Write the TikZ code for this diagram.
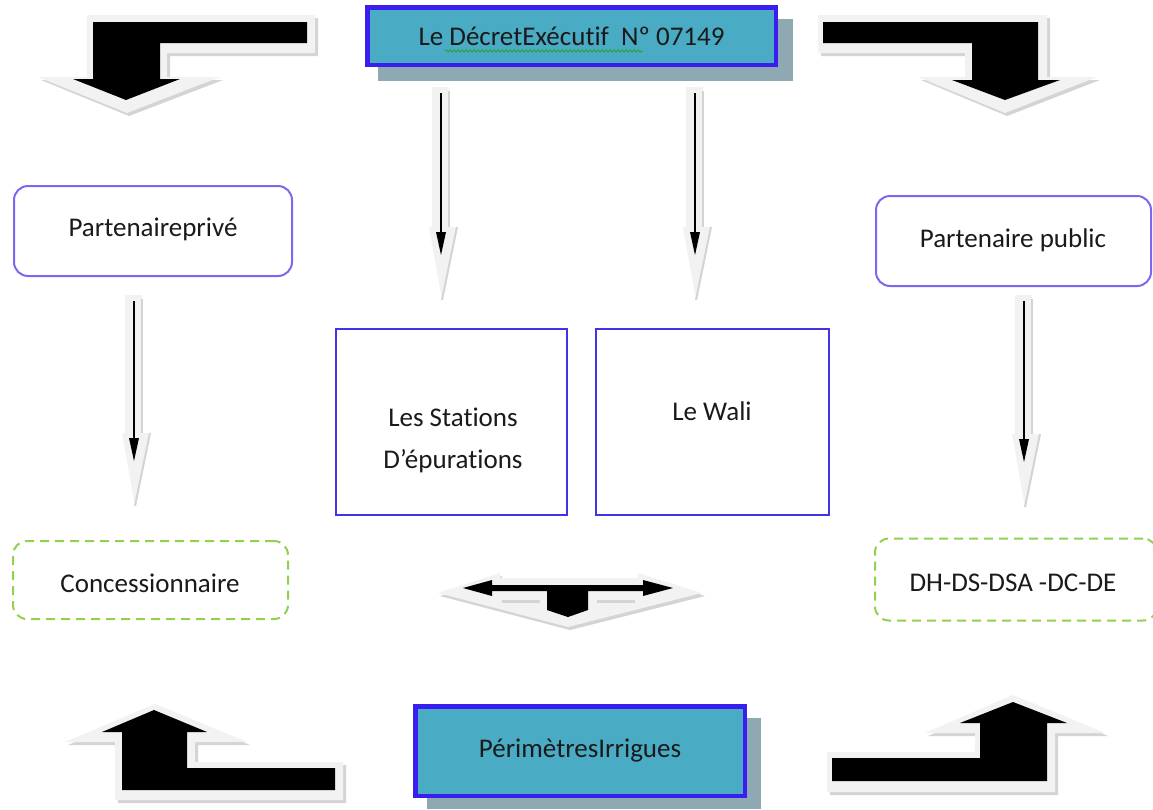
\documentclass[tikz,border=0pt]{standalone}
\usepackage{fontspec}
\setmainfont[Ligatures=NoCommon]{Carlito}
\usetikzlibrary{decorations.pathmorphing}
\definecolor{tealfill}{HTML}{4AABC5}
\definecolor{boxblue}{HTML}{3A1EF0}
\definecolor{shadowgray}{HTML}{8FA9B3}
\definecolor{roundblue}{HTML}{7A68F0}
\definecolor{rectblue}{HTML}{4332E6}
\definecolor{dashgreen}{HTML}{92D050}
\definecolor{lightfill}{HTML}{F2F2F2}
\definecolor{lightedge}{HTML}{D4D4D4}
\definecolor{txt}{HTML}{1A1A1A}
\definecolor{spellgreen}{HTML}{2E9E2E}
\tikzset{
  bigfont/.style={font=\fontsize{27}{42}\selectfont, text=txt},
  mainbox/.style={bigfont, draw=boxblue, line width=4.5pt, fill=tealfill, inner sep=0pt},
  roundbox/.style={bigfont, draw=roundblue, line width=2pt, rounded corners=14pt, inner sep=0pt},
  dashbox/.style={bigfont, draw=dashgreen, line width=2pt, dash pattern=on 9pt off 6pt, rounded corners=14pt, inner sep=0pt},
  rectbox/.style={bigfont, draw=rectblue, line width=2pt, inner sep=0pt},
  lighttext/.style={bigfont, inner sep=0pt},
}
% thin hollow arrow: x, ytop, ybottom
\newcommand\thinarr[3]{%
  \fill[lightfill] ({#1-9},{#2}) rectangle ({#1+8},{#3-73});
  \draw[lightedge, line width=2.5pt] ({#1+8},{#2+4}) -- ({#1+8},{#3-73});
  \fill[lightfill] ({#1-12},{#3-73}) -- ({#1+16},{#3-73}) -- ({#1+1},{#3}) -- cycle;
  \draw[lightedge, line width=2pt] ({#1+16},{#3-73}) -- ({#1+1},{#3});
  \draw[black, line width=2.6pt] ({#1},{#2+6}) -- ({#1},{#3-66});
  \fill[black] ({#1-5},{#3-68}) -- ({#1+5},{#3-68}) -- ({#1},{#3-45}) -- cycle;
}
\begin{document}
\begin{tikzpicture}[x=1pt,y=-1pt]
\useasboundingbox (0,0) rectangle (1153,809);
\fill[white] (0,0) rectangle (1153,809);

% ---- shadows of main boxes
\fill[shadowgray] (378,19) rectangle (793,81);
\fill[shadowgray] (427,718) rectangle (761,809);

% ---- main boxes
\node[mainbox, minimum width=408.5pt, minimum height=57.5pt] (decret) at (571.5,36) {Le DécretExécutif~\ Nº 07149};
\draw[spellgreen, line width=0.8pt, decorate, decoration={snake, amplitude=1.2pt, segment length=4pt}] (445,51) -- (643,51);
\node[mainbox, minimum width=329.5pt, minimum height=89.5pt] (perim) at (580,751) {PérimètresIrrigues};

% ---- side boxes
\node[roundbox, minimum width=278pt, minimum height=90pt] (prive) at (153,231) {};
\node[lighttext] (priveT) at (153,229) {Partenaireprivé};
\node[roundbox, minimum width=275pt, minimum height=90pt] (public) at (1013.5,241) {};
\node[lighttext] (publicT) at (1013,240) {Partenaire public};
\node[dashbox, minimum width=275pt, minimum height=78pt] (conc) at (150.5,580) {};
\node[lighttext] (concT) at (150,583) {Concessionnaire};
\node[dashbox, minimum width=282pt, minimum height=82pt] (dh) at (1016,579.5) {};
\node[lighttext] (dhT) at (1013,583) {DH-DS-DSA -DC-DE};

% ---- centre boxes
\node[rectbox, minimum width=231pt, minimum height=186pt] (stations) at (451.5,422) {};
\node[lighttext, align=center] (stationsT) at (453,440) {Les Stations\\D’épurations};
\node[rectbox, minimum width=233pt, minimum height=186pt] (wali) at (712.5,422) {};
\node[lighttext] (waliT) at (712,411) {Le Wali};

% ---- thin arrows
\thinarr{441}{87}{300}
\thinarr{695}{87}{300}
\thinarr{134}{295}{506}
\thinarr{1024}{295}{507}

% ---- big bent arrow top-left
\fill[lightedge] (318,18) -- (90,18) -- (90,80) -- (41,80) -- (129,116) -- (223,80) -- (170,80) -- (170,56) -- (318,56) -- cycle;
\fill[lightfill] (315,15) -- (87,15) -- (87,77) -- (38,77) -- (127,113) -- (220,77) -- (167,77) -- (167,53) -- (315,53) -- cycle;
\fill[black] (307,22) -- (93,22) -- (93,79) -- (73,79) -- (126,100) -- (180,79) -- (160,79) -- (160,43) -- (307,43) -- cycle;

% ---- big bent arrow top-right
\fill[lightedge] (821,18) -- (1050,18) -- (1050,80) -- (1100,80) -- (1007,116) -- (921,80) -- (968,80) -- (968,56) -- (821,56) -- cycle;
\fill[lightfill] (818,15) -- (1047,15) -- (1047,77) -- (1097,77) -- (1005,113) -- (918,77) -- (965,77) -- (965,53) -- (818,53) -- cycle;
\fill[black] (823,22) -- (1038,22) -- (1038,80) -- (1060,80) -- (1005,100) -- (952,80) -- (972,80) -- (972,43) -- (823,43) -- cycle;

% ---- big bent arrow bottom-left
\fill[lightedge] (157,707) -- (250,745) -- (198,745) -- (198,765) -- (346,765) -- (346,803) -- (118,803) -- (118,745) -- (68,745) -- cycle;
\fill[lightfill] (155,704) -- (247,742) -- (195,742) -- (195,762) -- (343,762) -- (343,800) -- (115,800) -- (115,742) -- (65,742) -- cycle;
\fill[black] (154,710) -- (207,732) -- (187,732) -- (187,768) -- (335,768) -- (335,790) -- (122,790) -- (122,732) -- (102,732) -- cycle;

% ---- big bent arrow bottom-right
\fill[lightedge] (1015,698) -- (1108,736) -- (1058,736) -- (1058,795) -- (830,795) -- (830,755) -- (978,755) -- (978,736) -- (928,736) -- cycle;
\fill[lightfill] (1013,695) -- (1105,733) -- (1055,733) -- (1055,792) -- (827,792) -- (827,752) -- (975,752) -- (975,733) -- (925,733) -- cycle;
\fill[black] (1013,702) -- (1067,723) -- (1047,723) -- (1047,781) -- (832,781) -- (832,758) -- (980,758) -- (980,723) -- (960,723) -- cycle;

% ---- middle left-right-down arrow
\fill[lightedge] (440,596) -- (502,576) -- (502,581) -- (640,581) -- (640,576) -- (705,596) -- (570,630) -- cycle;
\fill[lightfill] (438,593) -- (500,573) -- (500,578) -- (638,578) -- (638,573) -- (702,593) -- (568,627) -- cycle;
\draw[lightedge, line width=3pt] (502,601) -- (540,601);
\draw[lightedge, line width=3pt] (597,601) -- (635,601);
\fill[black] (463,588) -- (492,580) -- (492,585) -- (643,585) -- (643,580) -- (673,588) -- (643,596) -- (643,591) -- (588,591) -- (588,610) -- (568,617) -- (547,610) -- (547,591) -- (492,591) -- (492,596) -- cycle;
\end{tikzpicture}
\end{document}
